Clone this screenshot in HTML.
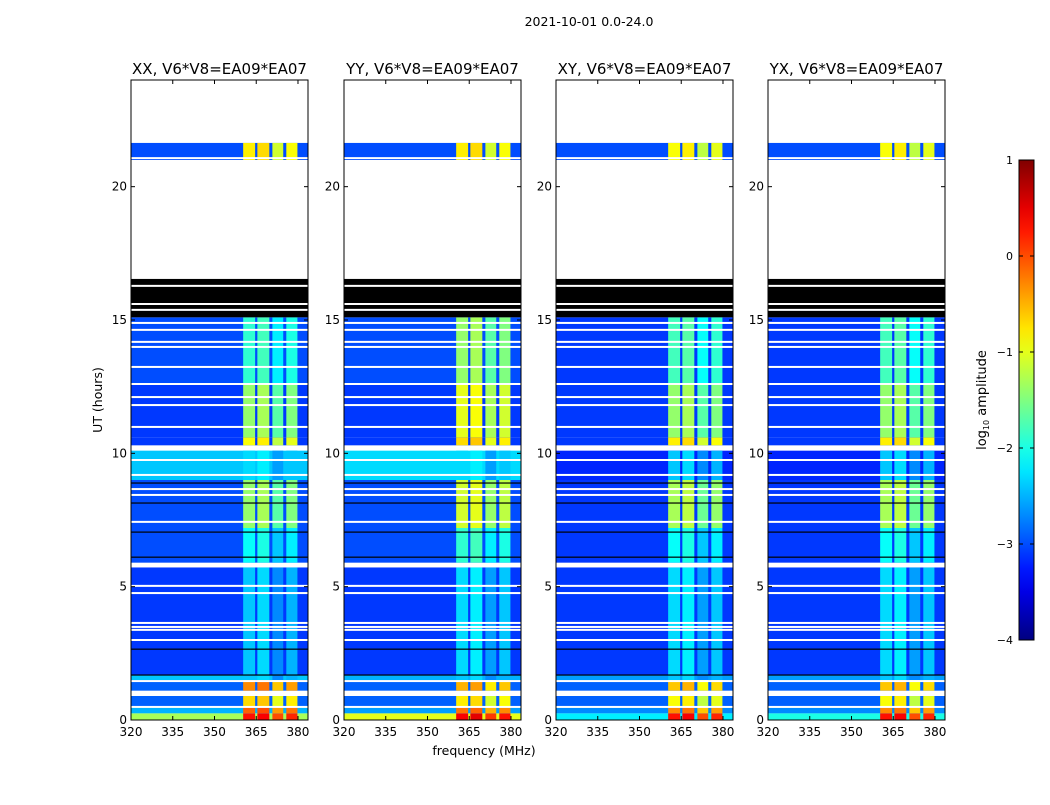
<!DOCTYPE html>
<html><head><meta charset="utf-8"><style>
body{margin:0;background:#fff;font-family:"Liberation Sans","DejaVu Sans",sans-serif}
svg text{font-family:"DejaVu Sans","Liberation Sans",sans-serif}
</style></head><body>
<svg id="chart" width="1050" height="800" viewBox="0 0 1050 800" xmlns="http://www.w3.org/2000/svg">
<rect width="1050" height="800" fill="#fff"/>
<text x="589" y="26" font-size="12.5" text-anchor="middle">2021-10-01 0.0-24.0</text>
<text transform="translate(102,400) rotate(-90)" font-size="12.5" text-anchor="middle">UT (hours)</text>
<text x="484" y="755" font-size="12.5" text-anchor="middle">frequency (MHz)</text>
<g id="panels"></g>
<g id="cbar"></g>
</svg>
<script>
// ---- data ----
const panelTitles = ["XX, V6*V8=EA09*EA07","YY, V6*V8=EA09*EA07","XY, V6*V8=EA09*EA07","YX, V6*V8=EA09*EA07"];
const xTicks = [320,335,350,365,380];
const yTicks = [0,5,10,15,20];
const cbarTicks = [-4,-3,-2,-1,0,1];
// time segments: start hour, end hour
const segStart = [0,0.25,0.5,0.9,1.1,1.5,1.7,5.72,5.9,7.2,9.0,10.1,10.3,10.6,12.6,15.1,16.54,21.0,21.64];
const segEnd   = [0.25,0.5,0.9,1.1,1.5,1.7,5.72,5.9,7.2,9.0,10.1,10.3,10.6,12.6,15.1,16.54,21.0,21.64,24];
// kind: d=data, w=blank (white), b=black
const segKind  = ["d","d","d","w","d","d","d","w","d","d","d","w","d","d","d","b","w","d","w"];
// background log10 amplitude per panel per segment
const bgXX = [-1.3,-2.5,-2.9,0,-2.9,-2.4,-3.1,0,-3.0,-3.0,-2.4,0,-3.1,-3.1,-3.0,0,0,-3.0,0];
const bgYY = [-1.0,-2.6,-2.9,0,-2.9,-2.5,-3.1,0,-3.0,-3.0,-2.3,0,-3.1,-3.1,-3.0,0,0,-3.0,0];
const bgXY = [-2.2,-2.7,-2.9,0,-2.9,-2.6,-3.1,0,-3.1,-3.1,-3.2,0,-3.1,-3.1,-3.1,0,0,-3.0,0];
const bgYX = [-2.0,-2.7,-2.9,0,-2.9,-2.6,-3.1,0,-3.1,-3.1,-3.2,0,-3.1,-3.1,-3.1,0,0,-3.0,0];
// bright band levels per segment
const colXX = [0.3,-0.1,-0.7,0,-0.3,-2.4,-2.4,0,-2.1,-1.4,-2.3,0,-0.9,-1.4,-1.9,0,0,-0.8,0];
const colYY = [0.4,-0.2,-0.8,0,-0.5,-2.4,-2.3,0,-1.9,-1.1,-2.3,0,-0.7,-1.0,-1.4,0,0,-0.8,0];
const colXY = [0.3,-0.3,-0.9,0,-0.6,-2.4,-2.3,0,-2.1,-1.3,-2.4,0,-0.8,-1.4,-1.8,0,0,-0.9,0];
const colYX = [0.3,-0.3,-0.9,0,-0.6,-2.4,-2.3,0,-2.1,-1.3,-2.4,0,-0.8,-1.4,-1.8,0,0,-0.9,0];
// bright frequency bands (MHz)
const bandLo = [360.3,365.4,370.8,375.8];
const bandHi = [364.6,369.7,374.7,379.8];
const bandOffset = [0,0.1,-0.3,-0.1];
// single-row flags (hours)
const whiteLines = [14.89,14.63,14.18,13.99,13.24,12.6,12.11,11.81,10.99,9.75,9.19,8.66,8.44,7.43,5.03,4.76,3.64,3.49,3.38,3.0,1.46,0.49,21.07,16.28,15.6,15.38];
const blackLines = [8.89,8.14,7.05,6.11,2.66,1.69];
</script>
<script>
const NS="http://www.w3.org/2000/svg";
function mk(tag,attrs,parent){const e=document.createElementNS(NS,tag);for(const k in attrs)e.setAttribute(k,attrs[k]);parent.appendChild(e);return e;}
function jet(v){let t=(v+4)/5;t=Math.max(0,Math.min(1,t));
 const f=x=>Math.max(0,Math.min(1,x));
 const r=f(Math.min(4*t-1.5,-4*t+4.5)),g=f(Math.min(4*t-0.5,-4*t+3.5)),b=f(Math.min(4*t+0.5,-4*t+2.5));
 return `rgb(${Math.round(r*255)},${Math.round(g*255)},${Math.round(b*255)})`;}
const panelX=[131,344,556,768], PW=177, PT=80, PB=720;
const fMin=320, fMax=383.6, tMin=0, tMax=24;
const bgs=[bgXX,bgYY,bgXY,bgYX], cols=[colXX,colYY,colXY,colYX];
const root=document.getElementById('panels');
panelTitles.forEach((title,p)=>{
 const x0=panelX[p];
 const xs=f=>x0+(f-fMin)/(fMax-fMin)*PW;
 const ys=t=>PB-(t-tMin)/(tMax-tMin)*(PB-PT);
 const g=mk('g',{},root);
 
 
 const hm=mk('g',{},g);
 
 
 segStart.forEach((s,i)=>{
  const y1=ys(segEnd[i]), h=ys(s)-y1;
  if(segKind[i]==='w') return;
  if(segKind[i]==='b'){const r=mk('rect',{x:x0,y:y1,width:PW,height:h,fill:'#000'},hm);
   return;}
  const r=mk('rect',{x:x0,y:y1,width:PW,height:h,fill:jet(bgs[p][i])},hm);
  
  
  bandLo.forEach((lo,k)=>{
   const c=mk('rect',{x:xs(lo),y:y1,width:xs(bandHi[k])-xs(lo),height:h,fill:jet(cols[p][i]+bandOffset[k])},hm);
   
   
  });
 });
 whiteLines.forEach(t=>{const l=mk('rect',{x:x0,y:ys(t)-1,width:PW,height:2,fill:'#fff'},hm);
  });
 blackLines.forEach(t=>{const l=mk('rect',{x:x0,y:ys(t)-0.5,width:PW,height:1.2,fill:'#000'},hm);
  });
 const fr=mk('rect',{x:x0,y:PT,width:PW,height:PB-PT,fill:'none',stroke:'#000','stroke-width':1},g);
 
 const tt=mk('text',{x:x0+PW/2,y:74,'font-size':15,'text-anchor':'middle'},g);tt.textContent=title;
 
 xTicks.forEach(f=>{const x=xs(f);
  mk('line',{x1:x,x2:x,y1:PB,y2:PB-4,stroke:'#000'},g);mk('line',{x1:x,x2:x,y1:PT,y2:PT+4,stroke:'#000'},g);
  const t=mk('text',{x:x,y:PB+16,'font-size':12,'text-anchor':'middle'},g);t.textContent=f;
  });
 yTicks.forEach(v=>{const y=ys(v);
  mk('line',{x1:x0,x2:x0+4,y1:y,y2:y,stroke:'#000'},g);mk('line',{x1:x0+PW,x2:x0+PW-4,y1:y,y2:y,stroke:'#000'},g);
  const t=mk('text',{x:x0-4,y:y+4,'font-size':12,'text-anchor':'end'},g);t.textContent=v;
  });
});
// colorbar
const cb=document.getElementById('cbar');


const CX=1019,CW=15,CT=160,CB=640;
const defs=mk('defs',{},cb);const lg=mk('linearGradient',{id:'jetg',x1:0,y1:1,x2:0,y2:0},defs);
for(let i=0;i<=20;i++){mk('stop',{offset:i/20,'stop-color':jet(-4+5*i/20)},lg);}
mk('rect',{x:CX,y:CT,width:CW,height:CB-CT,fill:'url(#jetg)',stroke:'#000'},cb);
const cys=v=>CB-(v+4)/5*(CB-CT);
cbarTicks.forEach(v=>{const y=cys(v);
 mk('line',{x1:CX,x2:CX+4,y1:y,y2:y,stroke:'#000'},cb);mk('line',{x1:CX+CW,x2:CX+CW-4,y1:y,y2:y,stroke:'#000'},cb);
 const t=mk('text',{x:1013,y:y+4,'font-size':11,'text-anchor':'end'},cb);t.textContent=(v<0?'\u2212'+(-v):v);
 });
const cl=mk('text',{transform:'translate(986,400) rotate(-90)','font-size':13,'text-anchor':'middle'},cb);
cl.innerHTML='log<tspan font-size="8" dy="3">10</tspan><tspan dy="-3"> amplitude</tspan>';

</script>
</body></html>
